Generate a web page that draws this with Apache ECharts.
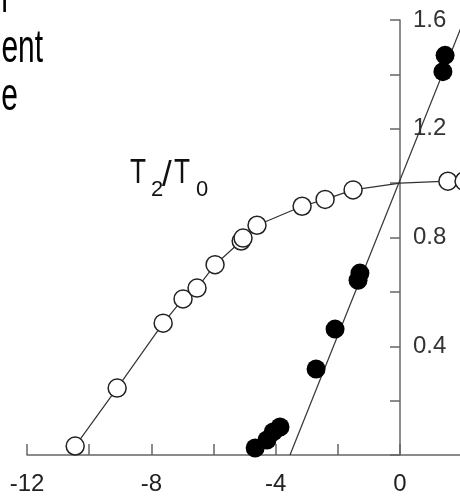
<!DOCTYPE html>
<html>
<head>
<meta charset="utf-8">
<script src="https://cdn.jsdelivr.net/npm/echarts@6/dist/echarts.min.js"></script>
<style>
  html, body { margin: 0; padding: 0; background: #fff; }
  #chart { width: 460px; height: 496px; }
</style>
</head>
<body>
<div id="chart"></div>
<script>
// open circles, T2/T0 (x, y)
const openPts = [
  [-10.45, 0.033], [-9.10, 0.246], [-7.62, 0.485], [-6.98, 0.574],
  [-6.53, 0.614], [-5.95, 0.70], [-5.11, 0.787], [-5.05, 0.798],
  [-4.60, 0.845], [-3.15, 0.915], [-2.41, 0.94], [-1.51, 0.975],
  [0, 1.0], [1.54, 1.007], [2.06, 1.007]
]
// filled circles
const filledPts = [
  [-4.66, 0.026], [-4.28, 0.055], [-4.08, 0.085], [-3.86, 0.103],
  [-2.70, 0.316], [-2.09, 0.463], [-1.35, 0.643], [-1.29, 0.669],
  [1.38, 1.41], [1.45, 1.47]
]
// straight fit through the filled points
const fitLine = [[-3.54, 0], [2.06, 1.6]]

const xTicks = [-12, -8, -4, 0]
const yTicks = [0.4, 0.8, 1.2, 1.6]

const font = 'Liberation Sans'
const chart = echarts.init(document.getElementById('chart'))

const option = {
  animation: false,
  grid: { left: 27, top: 20, width: 441.4, height: 435, containLabel: false, outerBoundsMode: 'none' },
  xAxis: {
    type: 'value',
    min: -12,
    max: 2.2,
    interval: 2,
    splitLine: { show: false },
    axisLine: { lineStyle: { color: '#666', width: 1.5 } },
    axisTick: { inside: true, length: 11, lineStyle: { color: '#666', width: 1.5 } },
    axisLabel: {
      margin: 17,
      color: '#222',
      fontFamily: font,
      fontSize: 24,
      showMaxLabel: false,
      formatter: v => (xTicks.includes(v) ? String(v) : '')
    }
  },
  yAxis: {
    type: 'value',
    min: 0,
    max: 1.6,
    interval: 0.2,
    position: 'left',
    offset: -373,  // sits at x = 0
    splitLine: { show: false },
    axisLine: { onZero: false, lineStyle: { color: '#666', width: 1.5 } },
    axisTick: { length: 10, lineStyle: { color: '#666', width: 1.5 } },
    axisLabel: {
      inside: true,
      margin: 13,
      color: '#333',
      fontFamily: font,
      fontSize: 24,
      formatter: v => (yTicks.some(t => Math.abs(t - v) < 1e-6) ? v.toFixed(1) : '')
    }
  },
  graphic: [
    { type: 'text', x: 8, y: -1, scaleX: 0.65, style: { text: 'n', font: '46px ' + font, fill: '#000', align: 'right', verticalAlign: 'middle' } },
    { type: 'text', x: 43, y: 49, scaleX: 0.65, style: { text: 'ent', font: '46px ' + font, fill: '#000', align: 'right', verticalAlign: 'middle' } },
    { type: 'text', x: 18, y: 97, scaleX: 0.65, style: { text: 'e', font: '46px ' + font, fill: '#000', align: 'right', verticalAlign: 'middle' } },
    { type: 'text', x: 130, y: 173, scaleX: 0.75, style: { text: 'T', font: '35px ' + font, fill: '#111', align: 'left', verticalAlign: 'middle' } },
    { type: 'text', x: 151, y: 190, style: { text: '2', font: '22px ' + font, fill: '#111', align: 'left', verticalAlign: 'middle' } },
    { type: 'text', x: 162, y: 176, style: { text: '/', font: '35px ' + font, fill: '#111', align: 'left', verticalAlign: 'middle' } },
    { type: 'text', x: 174, y: 173, scaleX: 0.75, style: { text: 'T', font: '35px ' + font, fill: '#111', align: 'left', verticalAlign: 'middle' } },
    { type: 'text', x: 196, y: 190, style: { text: '0', font: '22px ' + font, fill: '#111', align: 'left', verticalAlign: 'middle' } }
  ],
  series: [
    {
      name: 'fit',
      type: 'line',
      data: fitLine,
      symbol: 'none',
      lineStyle: { color: '#333', width: 1.2 },
      z: 2
    },
    {
      name: 'filled',
      type: 'scatter',
      data: filledPts,
      symbol: 'circle',
      symbolSize: 19,
      itemStyle: { color: '#000', opacity: 1 },
      z: 3
    },
    {
      name: 'T2/T0',
      type: 'line',
      data: openPts.map(p => (p[0] === 0 ? { value: p, symbol: 'none' } : p)),
      symbol: 'circle',
      symbolSize: 18,
      showAllSymbol: true,
      lineStyle: { color: '#333', width: 1.2 },
      itemStyle: { color: '#fff', borderColor: '#222', borderWidth: 1.5 },
      z: 4
    }
  ]
}

chart.setOption(option)
</script>
</body>
</html>
